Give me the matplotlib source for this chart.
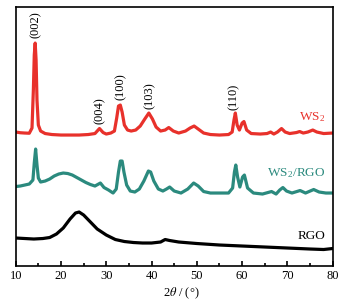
import matplotlib
matplotlib.use("Agg")
import matplotlib.pyplot as plt
from matplotlib.ticker import MultipleLocator

plt.rcParams['font.family'] = ['Liberation Serif', 'DejaVu Serif']
plt.rcParams['mathtext.fontset'] = 'stix'

# WS2 (red)
ws2_x = [10, 11, 12, 13, 13.6, 13.9, 14.1, 14.3, 14.5, 14.7, 15.0, 15.5, 16.5, 18, 20, 22, 24, 26, 27.5,
         28.5, 29.3, 30, 31, 31.8, 32.3, 32.7, 33.1, 33.5, 34, 34.7, 35.5, 36.5, 37.5, 38.5, 39.4, 40.2,
         41, 42, 43, 43.8, 44.8, 46, 47.5, 48.5, 49.4, 50.3, 51.5, 53, 55, 57, 57.8, 58.2, 58.5, 58.9,
         59.4, 60.0, 60.4, 61, 62, 64, 65.5, 66.3, 67, 67.8, 68.7, 69.5, 70.5, 72, 72.7, 73.5, 74.5,
         75.6, 76.5, 78, 80]
ws2_y = [133.7, 133, 132.7, 132.5, 137.7, 175.7, 210.7, 222.7, 205.7, 165.7, 140.7, 134.7, 132.2, 131.2,
         130.7, 130.7, 130.7, 131.2, 132.2, 137.2, 133.2, 131.7, 132.7, 134.7, 147.7, 159.7, 160.7, 153.7,
         140.7, 135.7, 134.7, 135.7, 139.7, 146.7, 152.7, 146.7, 138.7, 134.7, 135.7, 138.2, 134.7, 132.7,
         134.7, 137.7, 139.7, 136.7, 132.7, 131.2, 130.7, 131.2, 133.7, 145.7, 152.7, 140.7, 135.7, 142.7,
         144.2, 135.7, 132.2, 131.7, 132.2, 133.7, 131.7, 133.7, 137.2, 133.7, 132.2, 133.2, 134.2, 132.7,
         133.7, 135.7, 133.7, 132.2, 132.7]

# WS2/RGO (teal)
comp_x = [10, 11, 12, 13, 13.8, 14.1, 14.4, 14.7, 15.0, 15.5, 16.5, 17.5, 18.5, 19.5, 20.5, 21.5, 22.5,
          23.5, 24.5, 25.5, 26.5, 27.5, 28.7, 29.5, 30.5, 31.5, 32.2, 32.7, 33.1, 33.5, 33.9, 34.5, 35.3,
          36.3, 37.3, 38.3, 39.3, 39.8, 40.5, 41.5, 42.5, 43.3, 44, 45, 46.5, 48, 49.3, 50.3, 51.5, 53, 55,
          57, 57.9, 58.3, 58.6, 59, 59.5, 60.1, 60.5, 61.2, 62.5, 64.5, 66.5, 67.5, 68.3, 69, 69.8, 71,
          72.8, 74, 75.8, 77, 78.5, 80]
comp_y = [79.2, 79.7, 80.7, 81.7, 85.7, 102.7, 116.7, 100.7, 87.7, 83.7, 84.7, 86.7, 89.7, 91.7, 92.7,
          92.2, 90.7, 88.2, 85.7, 83.2, 81.2, 79.7, 82.7, 78.2, 75.7, 72.7, 76.7, 93.7, 104.7, 104.7, 93.7,
          80.7, 74.7, 73.7, 76.7, 84.7, 94.7, 93.7, 84.7, 76.7, 74.7, 76.7, 78.7, 74.7, 72.7, 76.7, 82.7,
          79.7, 74.2, 72.7, 72.7, 72.7, 77.7, 93.7, 100.7, 88.7, 78.7, 88.7, 90.7, 77.7, 72.7, 71.7, 74.2,
          71.7, 75.7, 78.2, 74.7, 72.7, 75.2, 72.7, 76.2, 73.7, 72.7, 72.7]

# RGO (black)
rgo_x = [10, 12, 14, 16, 17.5, 19, 20.5, 22, 23.2, 24, 25, 26.5, 28, 30, 32, 34, 36, 38, 40, 42, 43, 44,
         46, 50, 55, 60, 65, 70, 75, 78, 80]
rgo_y = [27.7, 27.2, 26.7, 27.2, 28.2, 31.7, 37.7, 46.7, 52.7, 53.7, 50.7, 43.7, 36.7, 30.7, 26.2, 24.2,
         23.2, 22.7, 22.7, 23.7, 26.2, 25.2, 23.7, 22.2, 20.7, 19.7, 18.7, 17.7, 16.7, 16.2, 17.2]

peak_labels = ['(002)', '(004)', '(100)', '(103)', '(110)']
peak_pos = [14.4, 28.6, 33.2, 39.6, 58.1]
peak_lab_y = [228, 142, 166, 157, 156]

red = '#e8312b'
teal = '#2b8a7e'

fig = plt.figure(figsize=(3.61, 3.07), dpi=100)
ax = fig.add_axes([0.0435, 0.1345, 0.8781, 0.8425])
ax.plot(ws2_x, ws2_y, color=red, lw=2.3, solid_joinstyle='round')
ax.plot(comp_x, comp_y, color=teal, lw=2.3, solid_joinstyle='round')
ax.plot(rgo_x, rgo_y, color='black', lw=2.3, solid_joinstyle='round')

for lab, px, py in zip(peak_labels, peak_pos, peak_lab_y):
    ax.text(px, py, lab, rotation=90, ha='center', va='bottom', fontsize=9)

ax.text(78.3, 148.7, r'WS$_\mathregular{2}$', color=red, ha='right', va='center', fontsize=9.5)
ax.text(78.3, 93, r'WS$_\mathregular{2}$/RGO', color=teal, ha='right', va='center', fontsize=9.5)
ax.text(78.3, 30, 'RGO', color='black', ha='right', va='center', fontsize=9.5)

ax.set_xlim(10, 80)
ax.set_ylim(0, 258.7)
ax.set_yticks([])
ax.xaxis.set_major_locator(MultipleLocator(10))
ax.xaxis.set_minor_locator(MultipleLocator(5))
ax.tick_params(axis='x', which='major', direction='in', length=3.5, width=1.2, labelsize=9, pad=3)
ax.tick_params(axis='x', which='minor', direction='in', length=2, width=1.2)
for s in ax.spines.values():
    s.set_linewidth(1.2)
ax.set_xlabel(r'2$\theta$ / (°)', fontsize=9, labelpad=1)
ax.xaxis.set_label_coords(0.524, -0.075)

fig.savefig('out.png', dpi=100)
